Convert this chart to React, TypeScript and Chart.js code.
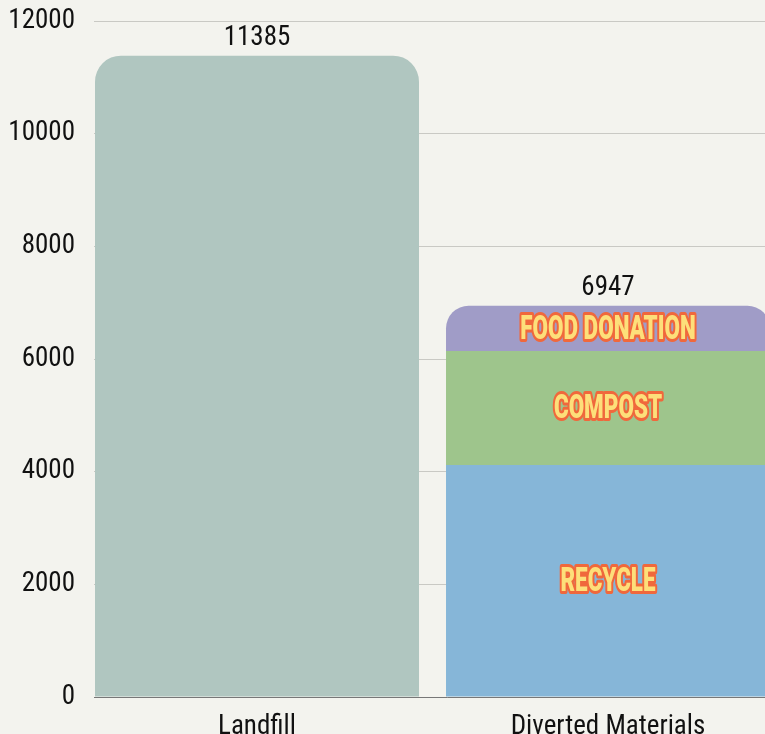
import React, { useEffect, useRef } from 'react';
import { Chart, registerables } from 'chart.js';

Chart.register(...registerables);

// ---- data ----
const CATEGORIES = ['Landfill', 'Diverted Materials'];
const LANDFILL: (number | null)[] = [11385, null];
const RECYCLE: (number | null)[] = [null, 4120];
const COMPOST: (number | null)[] = [null, 2022];
const FOOD_DONATION: (number | null)[] = [null, 805];
const SEGMENT_NAMES = ['RECYCLE', 'COMPOST', 'FOOD DONATION'];
const Y_MIN = 0;
const Y_MAX = 12000;
const Y_STEP = 2000;

// ---- style ----
const BG = '#f3f3ee';
const FONT = "'Roboto Condensed', 'Liberation Sans Narrow', Roboto, sans-serif";
const C_LANDFILL = '#b0c6c0';
const C_RECYCLE = '#86b6d8';
const C_COMPOST = '#9ec58c';
const C_FOOD = '#a09cc7';

const toPoints = (arr: (number | null)[]) =>
  arr.map((y, i) => ({ x: i, y })).filter((p) => p.y !== null);

const labelPlugin = {
  id: 'labels',
  beforeDraw(chart: any) {
    const { ctx, width, height } = chart;
    ctx.save();
    ctx.fillStyle = BG;
    ctx.fillRect(0, 0, width, height);
    ctx.restore();
  },
  afterDatasetsDraw(chart: any) {
    const { ctx } = chart;
    const xs = chart.scales.x;
    const ys = chart.scales.y;
    // totals above each category
    ctx.save();
    ctx.font = `27px ${FONT}`;
    ctx.fillStyle = '#111';
    ctx.textAlign = 'center';
    ctx.textBaseline = 'bottom';
    CATEGORIES.forEach((_, i) => {
      const total = [LANDFILL, RECYCLE, COMPOST, FOOD_DONATION].reduce(
        (s, a) => s + (a[i] ?? 0),
        0
      );
      ctx.fillText(String(total), xs.getPixelForValue(i), ys.getPixelForValue(total) - 4);
    });
    ctx.restore();

    // segment names inside stacked bars
    [1, 2, 3].forEach((di, k) => {
      const meta = chart.getDatasetMeta(di);
      meta.data.forEach((el: any) => {
        const cx = el.x;
        const cy = (el.y + el.base) / 2;
        ctx.save();
        ctx.translate(cx, cy);
        ctx.scale(0.66, 1);
        ctx.font = `900 34px Roboto, sans-serif`;
        ctx.textAlign = 'center';
        ctx.textBaseline = 'middle';
        ctx.lineJoin = 'round';
        ctx.lineWidth = 6;
        ctx.strokeStyle = '#f0683c';
        ctx.strokeText(SEGMENT_NAMES[k], 0, 2);
        ctx.fillStyle = '#fddf7a';
        ctx.fillText(SEGMENT_NAMES[k], 0, 2);
        ctx.restore();
      });
    });
  },
};

export default function App() {
  const ref = useRef<HTMLCanvasElement | null>(null);

  useEffect(() => {
    document.body.style.margin = '0';
    document.body.style.background = BG;
    document.body.style.overflow = 'hidden';
    document.documentElement.style.overflow = 'hidden';
    if (!ref.current) return;

    const chart = new Chart(ref.current, {
      type: 'bar',
      data: {
        datasets: [
          {
            label: 'Landfill',
            data: toPoints(LANDFILL) as any,
            backgroundColor: C_LANDFILL,
            borderSkipped: false,
            borderRadius: { topLeft: 26, topRight: 26, bottomLeft: 0, bottomRight: 0 },
          },
          {
            label: 'Recycle',
            data: toPoints(RECYCLE) as any,
            backgroundColor: C_RECYCLE,
            borderRadius: 0,
          },
          {
            label: 'Compost',
            data: toPoints(COMPOST) as any,
            backgroundColor: C_COMPOST,
            borderRadius: 0,
          },
          {
            label: 'Food Donation',
            data: toPoints(FOOD_DONATION) as any,
            backgroundColor: C_FOOD,
            borderSkipped: false,
            borderRadius: { topLeft: 26, topRight: 26, bottomLeft: 0, bottomRight: 0 },
          },
        ],
      },
      options: {
        responsive: false,
        animation: false,
        categoryPercentage: 1,
        barPercentage: 0.923,
        layout: { padding: { top: 21, left: 0, right: 0, bottom: 0 } },
        plugins: { legend: { display: false }, tooltip: { enabled: false } },
        scales: {
          x: {
            type: 'linear',
            stacked: true,
            offset: false,
            min: -0.4644,
            max: 1.547,
            afterBuildTicks: (s: any) => {
              s.ticks = CATEGORIES.map((_, i) => ({ value: i }));
            },
            afterFit: (s: any) => {
              s.height = 37;
              s.paddingLeft = 0;
              s.paddingRight = 0;
            },
            grid: { display: false, offset: false },
            border: { display: true, color: '#777', width: 1 },
            ticks: {
              autoSkip: false,
              maxRotation: 0,
              padding: 6,
              color: '#111',
              font: { family: FONT, size: 27 },
              callback: (v: any) => CATEGORIES[v] ?? '',
            },
          },
          y: {
            stacked: true,
            min: Y_MIN,
            max: Y_MAX,
            afterFit: (s: any) => {
              s.width = 94;
              s.paddingTop = 0;
              s.paddingBottom = 0;
            },
            grid: { color: '#c9c9c4', drawTicks: false, lineWidth: 1 },
            border: { display: false },
            ticks: {
              stepSize: Y_STEP,
              padding: 19,
              color: '#111',
              font: { family: FONT, size: 27 },
              callback: (v: any) => String(v),
            },
          },
        },
      } as any,
      plugins: [labelPlugin],
    });
    return () => chart.destroy();
  }, []);

  return (
    <div style={{ width: 765, height: 734, overflow: 'hidden', background: BG }}>
      <canvas ref={ref} width={800} height={734} style={{ display: 'block' }} />
    </div>
  );
}
